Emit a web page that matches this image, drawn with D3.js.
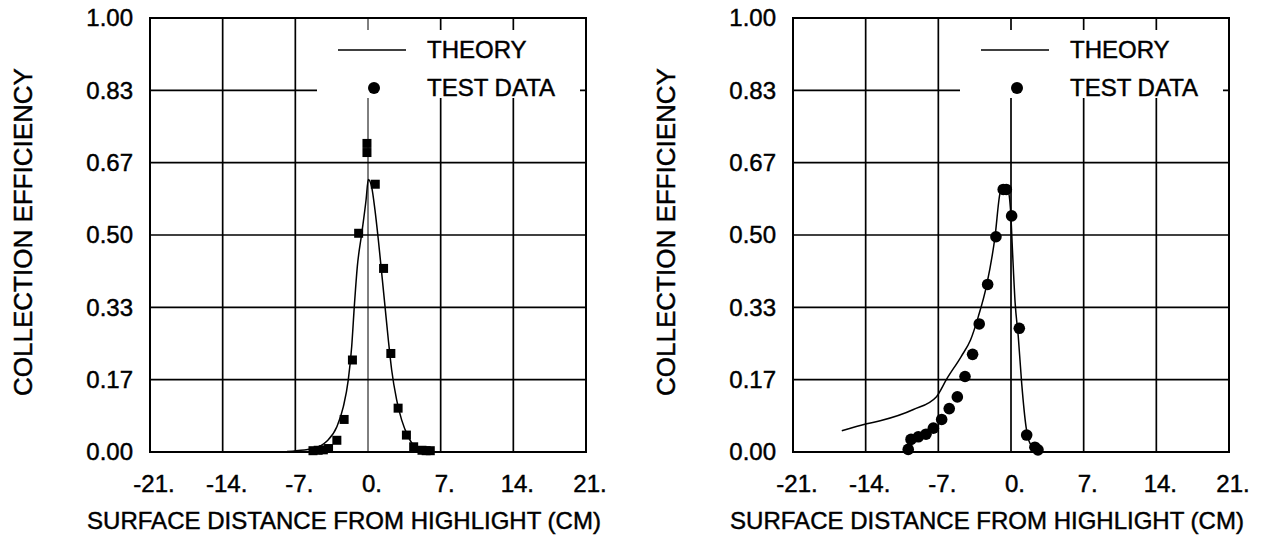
<!DOCTYPE html>
<html>
<head>
<meta charset="utf-8">
<script src="https://cdn.jsdelivr.net/npm/d3@7"></script>
<style>
  body { margin: 0; background: #fff; }
  text { font-family: "Liberation Sans", Arial, Helvetica, sans-serif; fill: #000; stroke: #000; stroke-width: 0.45px; }
</style>
</head>
<body>
<svg width="1262" height="537"></svg>
<script>
// axis ticks
var xTicks = [-21, -14, -7, 0, 7, 14, 21];
var yTicks = [0, 1/6, 2/6, 3/6, 4/6, 5/6, 1];
var yTickLabels = ["0.00", "0.17", "0.33", "0.50", "0.67", "0.83", "1.00"];

// left panel: theory curve
var theoryLx = [-7.8, -6.9, -5.3, -4.0, -3.0, -2.38, -1.9, -1.57, -1.32, -1.03, -0.6, -0.19, 0.03, 0.35, 0.67, 1.0, 1.32, 1.64, 1.96, 2.28, 2.76, 3.24, 3.88, 4.7, 5.2, 5.5];
var theoryLy = [0.001, 0.003, 0.008, 0.024, 0.058, 0.104, 0.166, 0.243, 0.335, 0.427, 0.504, 0.58, 0.628, 0.611, 0.558, 0.488, 0.412, 0.335, 0.258, 0.189, 0.12, 0.074, 0.035, 0.008, 0.003, 0.001];
// left panel: test data (squares)
var testLx = [-5.3, -4.8, -4.3, -3.8, -3.0, -2.3, -1.5, -0.9, -0.1, -0.1, 0.7, 1.5, 2.2, 2.9, 3.7, 4.4, 5.2, 5.6, 6.0];
var testLy = [0.003, 0.004, 0.005, 0.008, 0.027, 0.075, 0.212, 0.504, 0.690, 0.711, 0.617, 0.423, 0.227, 0.101, 0.039, 0.012, 0.004, 0.003, 0.003];

// right panel: theory curve
var theoryRx = [-16.3, -13.9, -12.6, -9.4, -7.2, -6.2, -4.8, -3.9, -3.15, -2.34, -1.54, -1.06, -0.74, -0.35, -0.05, 0.15, 0.4, 0.7, 1.03, 1.45, 1.83, 2.5];
var theoryRy = [0.049, 0.065, 0.072, 0.098, 0.127, 0.168, 0.22, 0.258, 0.312, 0.385, 0.496, 0.596, 0.611, 0.608, 0.56, 0.46, 0.343, 0.266, 0.158, 0.058, 0.02, 0.005];
// right panel: test data (circles)
var testRx = [-9.9, -9.63, -8.93, -8.19, -7.48, -6.68, -5.95, -5.17, -4.43, -3.7, -3.06, -2.25, -1.45, -0.75, -0.45, 0.06, 0.8, 1.51, 2.3, 2.6];
var testRy = [0.006, 0.029, 0.035, 0.041, 0.055, 0.075, 0.1, 0.127, 0.174, 0.225, 0.295, 0.386, 0.496, 0.605, 0.605, 0.544, 0.285, 0.039, 0.011, 0.005];

var svg = d3.select("svg");
var width = 436, height = 434;

function zip(xs, ys) {
  return xs.map(function(d, i) { return {x: d, y: ys[i]}; });
}

function drawPanel(left, top, theory, test, marker, zeroThin) {
  var g = svg.append("g").attr("transform", "translate(" + left + "," + top + ")");
  var x = d3.scaleLinear().domain([-21, 21]).range([0, width]);
  var y = d3.scaleLinear().domain([0, 1]).range([height, 0]);

  // grid
  g.selectAll(".vgrid").data(xTicks.slice(1, -1)).enter().append("line")
      .attr("x1", function(d) { return x(d); }).attr("x2", function(d) { return x(d); })
      .attr("y1", 0).attr("y2", height)
      .attr("stroke", "#000")
      .attr("stroke-width", function(d) { return (d == 0 && zeroThin) ? 1 : 1.7; });
  g.selectAll(".hgrid").data(yTicks.slice(1, -1)).enter().append("line")
      .attr("x1", 0).attr("x2", width)
      .attr("y1", function(d) { return y(d); }).attr("y2", function(d) { return y(d); })
      .attr("stroke", "#000").attr("stroke-width", 1.7);

  // legend box blanks out the grid behind it
  g.append("rect")
      .attr("x", 167).attr("y", 12).attr("width", 263).attr("height", 68)
      .attr("fill", "#fff");

  // theory line
  var line = d3.line()
      .x(function(d) { return x(d.x); })
      .y(function(d) { return y(d.y); })
      .curve(d3.curveMonotoneX);
  g.append("path")
      .attr("fill", "none")
      .attr("stroke", "#000")
      .attr("stroke-width", 1.5)
      .attr("d", line(theory));

  // test data
  if (marker == "square") {
    g.selectAll(".pt").data(test).enter().append("rect")
        .attr("x", function(d) { return x(d.x) - 4.5; })
        .attr("y", function(d) { return y(d.y) - 4.5; })
        .attr("width", 9).attr("height", 9)
        .attr("fill", "#000");
  } else {
    g.selectAll(".pt").data(test).enter().append("circle")
        .attr("cx", function(d) { return x(d.x); })
        .attr("cy", function(d) { return y(d.y); })
        .attr("r", 5.8)
        .attr("fill", "#000");
  }

  // frame
  g.append("rect")
      .attr("width", width).attr("height", height)
      .attr("fill", "none").attr("stroke", "#000").attr("stroke-width", 2);

  // legend
  g.append("line")
      .attr("x1", 188).attr("x2", 256).attr("y1", 32).attr("y2", 32)
      .attr("stroke", "#000").attr("stroke-width", 1.3);
  g.append("text").attr("x", 277).attr("y", 40)
      .style("font-size", "24px").text("THEORY");
  g.append("circle").attr("cx", 224).attr("cy", 70).attr("r", 6).attr("fill", "#000");
  g.append("text").attr("x", 277).attr("y", 78)
      .style("font-size", "24px").text("TEST DATA");

  // y tick labels
  g.selectAll(".ylab").data(yTicks).enter().append("text")
      .attr("x", -17)
      .attr("y", function(d) { return y(d); })
      .attr("dy", "0.35em")
      .attr("text-anchor", "end")
      .style("font-size", "24px")
      .text(function(d, i) { return yTickLabels[i]; });

  // x tick labels, number centred on tick with trailing dot
  g.selectAll(".xlab").data(xTicks).enter().append("text")
      .attr("x", function(d) { return x(d) + 4; })
      .attr("y", height + 40)
      .attr("text-anchor", "middle")
      .style("font-size", "24px")
      .text(function(d) { return d + "."; });

  // axis titles
  g.append("text")
      .attr("x", width / 2 - 24).attr("y", height + 77)
      .attr("text-anchor", "middle")
      .style("font-size", "24px")
      .text("SURFACE DISTANCE FROM HIGHLIGHT (CM)");
  g.append("text")
      .attr("transform", "translate(-118," + (height / 2 - 3) + ") rotate(-90)")
      .attr("text-anchor", "middle")
      .style("font-size", "26px")
      .text("COLLECTION EFFICIENCY");
}

drawPanel(150, 18, zip(theoryLx, theoryLy), zip(testLx, testLy), "square", true);
drawPanel(793, 18, zip(theoryRx, theoryRy), zip(testRx, testRy), "circle", false);
</script>
</body>
</html>
